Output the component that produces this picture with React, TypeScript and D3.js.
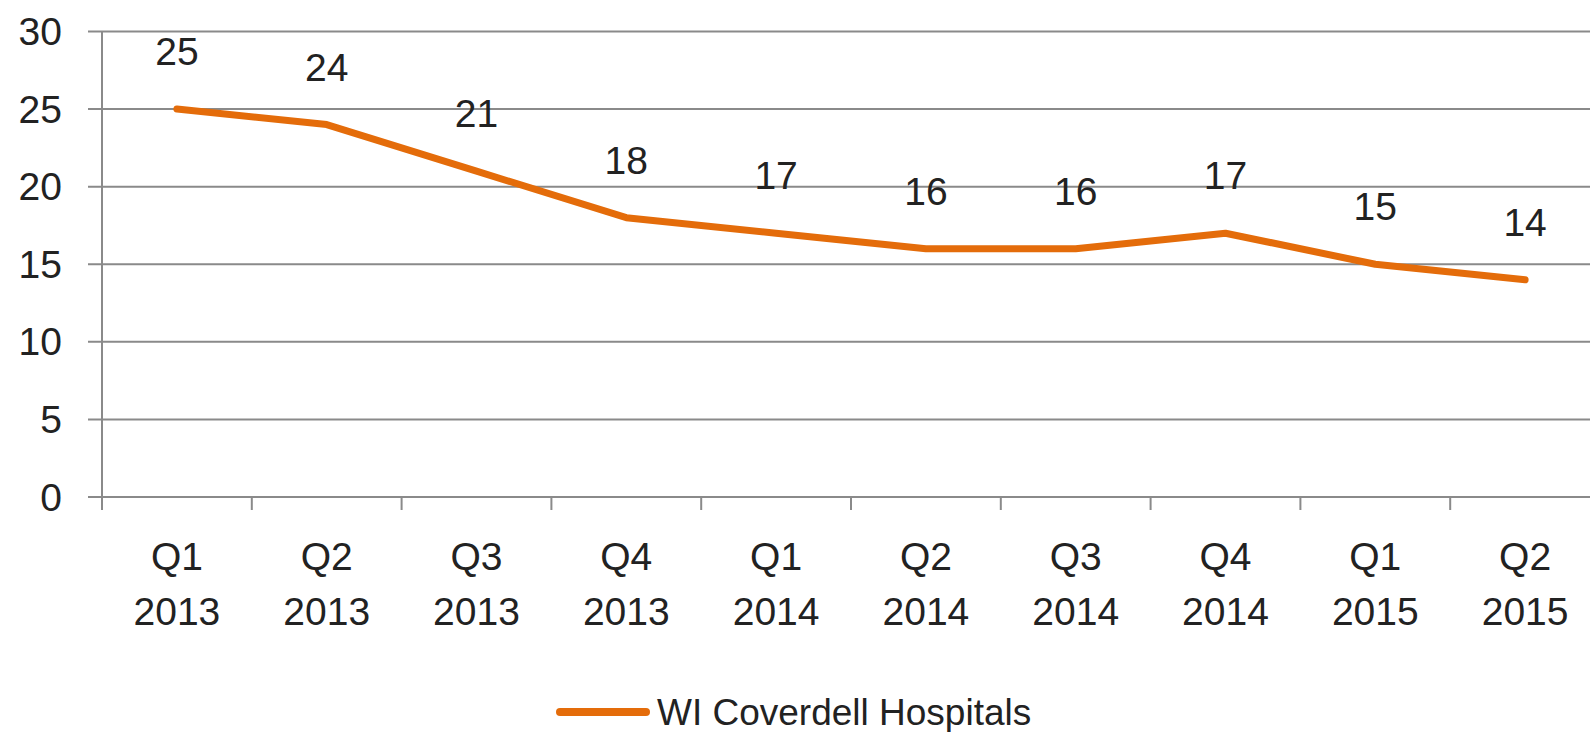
import { useEffect, useRef } from "react";
import * as d3 from "d3";

const quarters = ["Q1", "Q2", "Q3", "Q4", "Q1", "Q2", "Q3", "Q4", "Q1", "Q2"];
const years = ["2013", "2013", "2013", "2013", "2014", "2014", "2014", "2014", "2015", "2015"];
const values = [25, 24, 21, 18, 17, 16, 16, 17, 15, 14];
const yTicks = [0, 5, 10, 15, 20, 25, 30];
const seriesName = "WI Coverdell Hospitals";

export default function App() {
  const ref = useRef<SVGSVGElement>(null);

  useEffect(() => {
    if (!ref.current) return;
    const width = 1590;
    const height = 732;
    const font = "'Liberation Sans', Arial, sans-serif";
    const orange = "#E46C0A";
    const grid = "#8a8a8a";

    const svg = d3.select(ref.current);
    svg.selectAll("*").remove();
    svg.attr("width", width).attr("height", height);

    const cats = values.map((_, i) => String(i));
    const x = d3.scaleBand().domain(cats).range([102, 1600]);
    const y = d3.scaleLinear().domain([0, 30]).range([497, 31.5]);

    // gridlines
    svg.append("g")
      .selectAll("line")
      .data(yTicks)
      .enter()
      .append("line")
      .attr("x1", 88)
      .attr("x2", width)
      .attr("y1", (d) => y(d))
      .attr("y2", (d) => y(d))
      .attr("stroke", grid)
      .attr("stroke-width", 2);

    // y axis line
    svg.append("line")
      .attr("x1", 102).attr("x2", 102)
      .attr("y1", y(30)).attr("y2", y(0) + 13)
      .attr("stroke", grid).attr("stroke-width", 2);

    // category ticks
    svg.append("g")
      .selectAll("line")
      .data(cats.slice(1))
      .enter()
      .append("line")
      .attr("x1", (d) => x(d)!)
      .attr("x2", (d) => x(d)!)
      .attr("y1", y(0))
      .attr("y2", y(0) + 13)
      .attr("stroke", grid)
      .attr("stroke-width", 2);

    // y labels
    svg.append("g")
      .selectAll("text")
      .data(yTicks)
      .enter()
      .append("text")
      .attr("x", 62)
      .attr("y", (d) => y(d))
      .attr("dy", "0.35em")
      .attr("text-anchor", "end")
      .style("font-family", font)
      .style("font-size", "39px")
      .attr("fill", "#222")
      .text((d) => d);

    // x labels
    const xl = svg.append("g")
      .selectAll("text")
      .data(cats)
      .enter()
      .append("text")
      .attr("x", (d) => x(d)! + x.bandwidth() / 2)
      .attr("text-anchor", "middle")
      .style("font-family", font)
      .style("font-size", "39px")
      .attr("fill", "#222");
    xl.append("tspan").attr("x", (d) => x(d)! + x.bandwidth() / 2).attr("y", 570).text((_, i) => quarters[i]);
    xl.append("tspan").attr("x", (d) => x(d)! + x.bandwidth() / 2).attr("y", 625).text((_, i) => years[i]);

    // line
    const line = d3.line<number>()
      .x((_, i) => x(cats[i])! + x.bandwidth() / 2)
      .y((d) => y(d));
    svg.append("path")
      .datum(values)
      .attr("d", line)
      .attr("fill", "none")
      .attr("stroke", orange)
      .attr("stroke-width", 7)
      .attr("stroke-linecap", "round")
      .attr("stroke-linejoin", "round");

    // data labels
    svg.append("g")
      .selectAll("text")
      .data(values)
      .enter()
      .append("text")
      .attr("x", (_, i) => x(cats[i])! + x.bandwidth() / 2)
      .attr("y", (d) => y(d) - 44)
      .attr("text-anchor", "middle")
      .style("font-family", font)
      .style("font-size", "39px")
      .attr("fill", "#222")
      .text((d) => d);

    // legend
    svg.append("line")
      .attr("x1", 560).attr("x2", 646)
      .attr("y1", 712).attr("y2", 712)
      .attr("stroke", orange).attr("stroke-width", 8)
      .attr("stroke-linecap", "round");
    svg.append("text")
      .attr("x", 657)
      .attr("y", 712)
      .attr("dy", "0.35em")
      .style("font-family", font)
      .style("font-size", "37px")
      .attr("fill", "#222")
      .text(seriesName);
  }, []);

  return (
    <div style={{ position: "absolute", left: 0, top: 0 }}>
      <svg ref={ref} style={{ display: "block" }} />
    </div>
  );
}
